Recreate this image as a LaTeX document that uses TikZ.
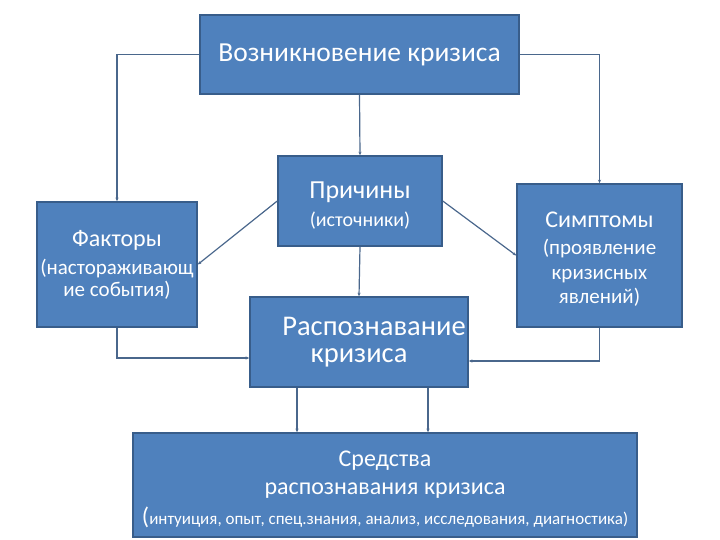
\documentclass[tikz,border=0pt]{standalone}
\usepackage{fontspec}
\setmainfont{Carlito}
\definecolor{crfill}{RGB}{79,129,189}
\definecolor{crborder}{RGB}{56,93,138}
\definecolor{crline}{RGB}{74,103,140}
\usetikzlibrary{arrows.meta,positioning}
\newcommand{\crbig}{\fontsize{24}{24}\selectfont}
\newcommand{\crsmall}{\fontsize{21}{22}\selectfont}

\begin{document}
\begin{tikzpicture}[x=1pt, y=-1pt,
  crbox/.style={draw=crborder, line width=1.5pt, fill=crfill, text=white, align=center, inner sep=0pt},
  crlink/.style={crline, line width=1.2pt, -{Stealth[length=3.5pt,width=3pt]}}]
\useasboundingbox (0,0) rectangle (720,540);
% Boxes
\node[crbox, minimum width=319pt, minimum height=79pt, font=\fontsize{27.5}{30}\selectfont] (start) at (359.5,54.5) {Возникновение кризиса};
\node[crbox, minimum width=164pt, minimum height=90pt, font=\fontsize{20}{28}\selectfont] (causes) at (360,201)
  {\fontsize{26}{28}\selectfont\rule{0pt}{26pt}Причины\\\fontsize{20}{28}\selectfont (источники)};
\node[crbox, minimum width=160pt, minimum height=125pt, font=\crsmall] (factors) at (117,264.5)
  {\crbig Факторы\\[6pt]\crsmall (настораживающ\\\crsmall ие события)};
\node[crbox, minimum width=165pt, minimum height=143pt, font=\fontsize{21}{24}\selectfont] (symptoms) at (599.5,255.5)
  {\crbig\rule{0pt}{23pt}Симптомы\\[3pt]\crsmall (проявление\\[1pt]\crsmall кризисных\\\crsmall явлений)};
\node[crbox, minimum width=218pt, minimum height=90pt, font=\fontsize{28.5}{27}\selectfont] (recog) at (359,342) {\hspace*{30pt}Распознавание\\кризиса};
\node[crbox, minimum width=504pt, minimum height=104pt, font=\fontsize{24}{28}\selectfont] (means) at (385,485)
  {\rule{0pt}{25pt}Средства\\распознавания кризиса\\[2pt]{\fontsize{24}{24}\selectfont(}\fontsize{17}{20}\selectfont интуиция, опыт, спец.знания, анализ, исследования, диагностика)};
% Connectors
\draw[crlink] (start.west) -| (factors.north);
\draw[crlink] (start.east) -| (symptoms.north);
\draw[crlink] (start.south) -- (causes.north);
\draw[crlink] (causes.west) -- (factors.east);
\draw[crlink] (causes.east) -- (symptoms.west);
\draw[crlink] (causes.south) -- (recog.north);
\draw[crlink] (factors.south) |- ([yshift=-16pt]recog.west);
\draw[crlink] (symptoms.south) |- ([yshift=-19pt]recog.east);
\draw[crlink] ([xshift=-62pt]recog.south) -- ([xshift=-62pt]recog.south |- means.north);
\draw[crlink] ([xshift=69pt]recog.south) -- ([xshift=69pt]recog.south |- means.north);
\end{tikzpicture}
\end{document}
